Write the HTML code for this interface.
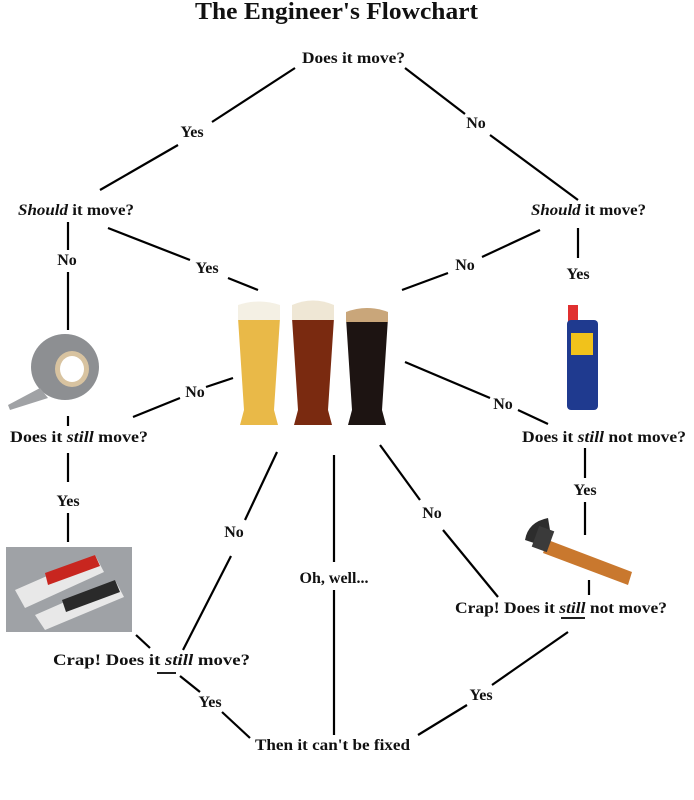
<!DOCTYPE html>
<html><head><meta charset="utf-8"><style>
html,body{margin:0;padding:0;background:#fff;}
svg{display:block;}
text{font-family:"Liberation Serif",serif;font-weight:bold;font-size:16px;fill:#111;}
</style></head><body>
<svg width="694" height="800" viewBox="0 0 694 800">
<g stroke="#000" stroke-width="2.2" fill="none" stroke-linecap="butt">
<line x1="295" y1="68" x2="212" y2="122"/>
<line x1="178" y1="145" x2="100" y2="190"/>
<line x1="405" y1="68" x2="465" y2="114"/>
<line x1="490" y1="135" x2="578" y2="200"/>
<line x1="68" y1="222" x2="68" y2="250"/>
<line x1="68" y1="272" x2="68" y2="330"/>
<line x1="108" y1="228" x2="190" y2="260"/>
<line x1="228" y1="278" x2="258" y2="290"/>
<line x1="578" y1="228" x2="578" y2="258"/>
<line x1="540" y1="230" x2="482" y2="257"/>
<line x1="448" y1="273" x2="402" y2="290"/>
<line x1="68" y1="416" x2="68" y2="426"/>
<line x1="233" y1="378" x2="206" y2="387"/>
<line x1="180" y1="398" x2="133" y2="417"/>
<line x1="405" y1="362" x2="490" y2="398"/>
<line x1="518" y1="410" x2="548" y2="424"/>
<line x1="68" y1="453" x2="68" y2="482"/>
<line x1="68" y1="513" x2="68" y2="542"/>
<line x1="585" y1="448" x2="585" y2="478"/>
<line x1="585" y1="502" x2="585" y2="535"/>
<line x1="589" y1="580" x2="589" y2="595"/>
<line x1="380" y1="445" x2="420" y2="500"/>
<line x1="443" y1="530" x2="498" y2="597"/>
<line x1="334" y1="455" x2="334" y2="562"/>
<line x1="334" y1="590" x2="334" y2="735"/>
<line x1="277" y1="452" x2="245" y2="520"/>
<line x1="231" y1="556" x2="183" y2="650"/>
<line x1="136" y1="635" x2="150" y2="648"/>
<line x1="180" y1="676" x2="200" y2="692"/>
<line x1="222" y1="712" x2="250" y2="738"/>
<line x1="568" y1="632" x2="492" y2="685"/>
<line x1="467" y1="705" x2="418" y2="735"/>
<line x1="157" y1="673" x2="176" y2="673" stroke-width="1.8"/>
<line x1="561" y1="618" x2="585" y2="618" stroke-width="1.8"/>
</g>
<!-- tape -->
<ellipse cx="65" cy="367" rx="34" ry="33" fill="#8d8f92"/>
<ellipse cx="72" cy="369" rx="17" ry="18" fill="#d8c3a0"/>
<ellipse cx="72" cy="369" rx="12" ry="13" fill="#fff"/>
<polygon points="8,405 40,388 48,398 10,410" fill="#a0a2a5"/>
<!-- beers -->
<g>
<path d="M238,318 L280,318 L274,410 L278,425 L240,425 L244,410 Z" fill="#e9b948"/>
<path d="M238,305 Q259,298 280,305 L280,320 L238,320 Z" fill="#f4f0e4"/>
<path d="M292,318 L334,318 L328,410 L332,425 L294,425 L298,410 Z" fill="#7a2a10"/>
<path d="M292,305 Q313,296 334,305 L334,320 L292,320 Z" fill="#efe7d5"/>
<path d="M346,318 L388,318 L382,410 L386,425 L348,425 L352,410 Z" fill="#1d1412"/>
<path d="M346,312 Q367,304 388,312 L388,322 L346,322 Z" fill="#c9a67a"/>
</g>
<!-- WD40 -->
<rect x="568" y="305" width="10" height="18" fill="#e03030"/>
<rect x="567" y="320" width="31" height="90" rx="4" fill="#1f3a8f"/>
<rect x="571" y="333" width="22" height="22" fill="#f1c21b"/>
<!-- JB weld -->
<rect x="6" y="547" width="126" height="85" fill="#9fa2a6"/>
<polygon points="15,590 95,555 104,572 25,608" fill="#e8e8e8"/>
<polygon points="45,573 95,555 100,566 48,585" fill="#c8261f"/>
<polygon points="35,615 115,580 124,597 45,630" fill="#e8e8e8"/>
<polygon points="62,600 115,580 120,592 66,612" fill="#2a2a2a"/>
<!-- hammer -->
<polygon points="548,540 632,572 628,585 543,553" fill="#c9782e"/>
<path d="M525,540 Q528,522 548,518 L550,530 L540,545 Z" fill="#2d2d2d"/>
<rect x="535" y="528" width="16" height="22" fill="#3a3a3a" transform="rotate(20 543 539)"/>
<text x="195" y="19" textLength="283" lengthAdjust="spacingAndGlyphs" style="font-size:24px">The Engineer's Flowchart</text>
<text x="302" y="63" textLength="103" lengthAdjust="spacingAndGlyphs">Does it move?</text>
<text x="192" y="137" text-anchor="middle">Yes</text>
<text x="476" y="128" text-anchor="middle">No</text>
<text x="18" y="215" textLength="116" lengthAdjust="spacingAndGlyphs"><tspan font-style="italic">Should</tspan> it move?</text>
<text x="531" y="215" textLength="115" lengthAdjust="spacingAndGlyphs"><tspan font-style="italic">Should</tspan> it move?</text>
<text x="67" y="265" text-anchor="middle">No</text>
<text x="207" y="273" text-anchor="middle">Yes</text>
<text x="465" y="270" text-anchor="middle">No</text>
<text x="578" y="279" text-anchor="middle">Yes</text>
<text x="195" y="397" text-anchor="middle">No</text>
<text x="503" y="409" text-anchor="middle">No</text>
<text x="10" y="442" textLength="138" lengthAdjust="spacingAndGlyphs">Does it <tspan font-style="italic">still</tspan> move?</text>
<text x="522" y="442" textLength="164" lengthAdjust="spacingAndGlyphs">Does it <tspan font-style="italic">still</tspan> not move?</text>
<text x="68" y="506" text-anchor="middle">Yes</text>
<text x="585" y="495" text-anchor="middle">Yes</text>
<text x="432" y="518" text-anchor="middle">No</text>
<text x="234" y="537" text-anchor="middle">No</text>
<text x="334" y="583" text-anchor="middle">Oh, well...</text>
<text x="455" y="613" textLength="212" lengthAdjust="spacingAndGlyphs">Crap!  Does it <tspan font-style="italic">still</tspan> not move?</text>
<text x="53" y="665" textLength="197" lengthAdjust="spacingAndGlyphs">Crap!  Does it <tspan font-style="italic">still</tspan> move?</text>
<text x="210" y="707" text-anchor="middle">Yes</text>
<text x="481" y="700" text-anchor="middle">Yes</text>
<text x="255" y="750" textLength="155" lengthAdjust="spacingAndGlyphs">Then it can't be fixed</text>
</svg>
</body></html>
